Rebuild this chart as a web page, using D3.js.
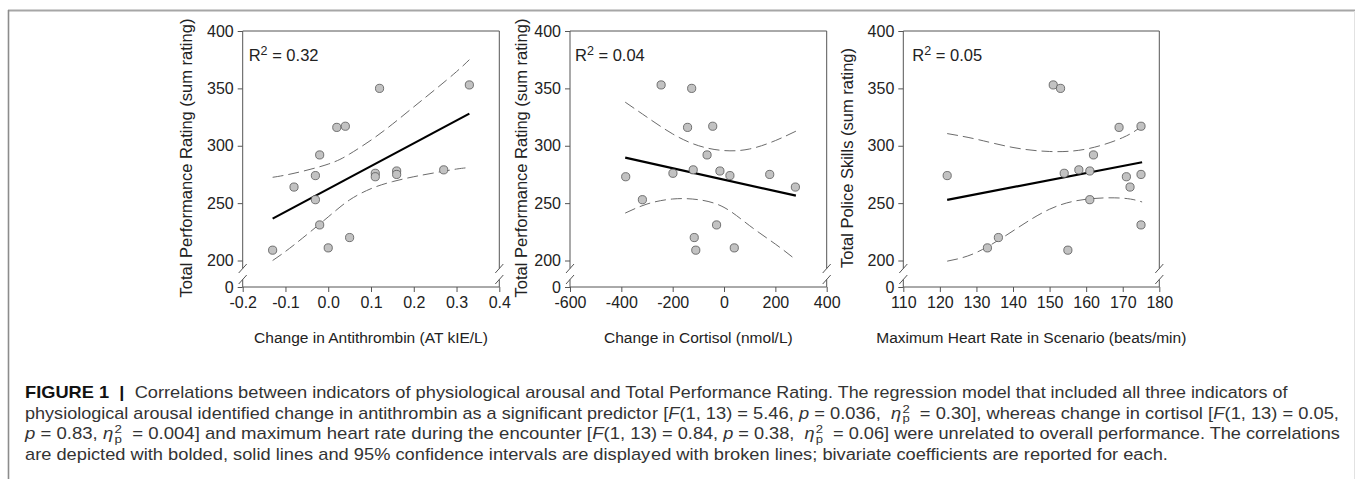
<!DOCTYPE html>
<html><head><meta charset="utf-8">
<script src="https://cdn.jsdelivr.net/npm/d3@7"></script>
<style>body{margin:0;background:#fff;} svg{display:block;} text{font-family:"Liberation Sans",Arial,sans-serif;}</style>
</head><body>
<svg id="chart" width="1355" height="479"></svg>
<script>
// ---------- data ----------
const yTicks = [0, 200, 250, 300, 350, 400];
const yTickLabels = ["0", "200", "250", "300", "350", "400"];

// Panel 1: antithrombin
const atX = [-0.13,-0.08,-0.03,-0.03,-0.02,-0.02,0.00,0.02,0.04,0.05,0.11,0.11,0.12,0.16,0.16,0.27,0.33];
const atY = [209,264,274,253,292,231,211,316,317,220,276,273,350,278,275,279,353];
const atFitX = [-0.13, 0.33];
const atFitY = [236.5, 328];
const atCiX = [-0.13,-0.08,0.0,0.05,0.1,0.15,0.2,0.25,0.3,0.33];
const atUpY = [272.5,276,284,292.8,304.9,318.8,333.9,349,364.6,375];
const atLoY = [200,213.6,238,252.8,262.6,268.7,273,276.5,279.7,281];
const atTicks = [-0.2,-0.1,0,0.1,0.2,0.3,0.4];
const atTickLabels = ["-0.2","-0.1","0.0","0.1","0.2","0.3","0.4"];

// Panel 2: cortisol
const coX = [-383,-318,-245,-199,-142,-126,-120,-116,-110,-66,-44,-29,-16,23,40,178,278];
const coY = [273,253,353,276,316,350,279,220,209,292,317,231,278,274,211,275,264];
const coFitX = [-385, 280];
const coFitY = [289.7, 256.5];
const coCiX = [-385,-300,-200,-100,0,100,200,280];
const coUpY = [338,324.9,310.3,300.1,295.8,297.2,304.5,312.7];
const coLoY = [241.3,249.2,253.6,253,246.3,230.3,214.3,200.6];
const coTicks = [-600,-400,-200,0,200,400];
const coTickLabels = ["-600","-400","-200","0","200","400"];

// Panel 3: heart rate
const hrX = [122,133,136,151,153,154,155,158,161,161,162,169,171,172,175,175,175];
const hrY = [274,211,220,353,350,276,209,279,278,253,292,316,273,264,317,275,231];
const hrFitX = [122, 175.3];
const hrFitY = [252.8, 285.6];
const hrCiX = [122,130,140,150,160,170,175.3];
const hrUpY = [310.6,305.7,298.5,295,297.1,307.1,317.3];
const hrLoY = [195,207,225.8,244.7,253.4,254.3,251];
const hrTicks = [110,120,130,140,150,160,170,180];
const hrTickLabels = ["110","120","130","140","150","160","170","180"];

const r2Labels = ["0.32", "0.04", "0.05"];
const xTitles = ["Change in Antithrombin (AT kIE/L)", "Change in Cortisol (nmol/L)", "Maximum Heart Rate in Scenario (beats/min)"];
const yTitles = ["Total Performance Rating (sum rating)", "Total Performance Rating (sum rating)", "Total Police Skills (sum rating)"];

// ---------- drawing ----------
const svg = d3.select("#chart");
const AX = "#555";

// outer figure frame
svg.append("line").attr("x1", 8).attr("x2", 1355).attr("y1", 10.5).attr("y2", 10.5)
  .attr("stroke", "#a6a6a6").attr("stroke-width", 2);
svg.append("line").attr("x1", 8.5).attr("x2", 8.5).attr("y1", 10).attr("y2", 479)
  .attr("stroke", "#8c8c8c").attr("stroke-width", 1.6);
svg.append("line").attr("x1", 1354.5).attr("x2", 1354.5).attr("y1", 11).attr("y2", 479)
  .attr("stroke", "#e2e2e2").attr("stroke-width", 1);

const Y0 = 287, Y200 = 260.5, Y400 = 31;

const panels = [
  {xDom:[-0.2,0.4], xRange:[242.7,499.3], xs:atX, ys:atY, fx:atFitX, fy:atFitY, cx:atCiX, up:atUpY, lo:atLoY, ticks:atTicks, tl:atTickLabels, ytx:186, rx:6},
  {xDom:[-600,400], xRange:[570,826.7], xs:coX, ys:coY, fx:coFitX, fy:coFitY, cx:coCiX, up:coUpY, lo:coLoY, ticks:coTicks, tl:coTickLabels, ytx:521, rx:5},
  {xDom:[110,180], xRange:[903.3,1159.3], xs:hrX, ys:hrY, fx:hrFitX, fy:hrFitY, cx:hrCiX, up:hrUpY, lo:hrLoY, ticks:hrTicks, tl:hrTickLabels, ytx:847, rx:9}
];

panels.forEach((p, k) => {
  const x = d3.scaleLinear().domain(p.xDom).range(p.xRange);
  const y = d3.scaleLinear().domain([0, 200, 400]).range([Y0, Y200, Y400]);
  const g = svg.append("g");
  const [xa, xb] = p.xRange;
  const bTop = 268.5, bBot = 279.5;

  const seg = (x1, y1, x2, y2, w) => g.append("line").attr("x1", x1).attr("y1", y1).attr("x2", x2).attr("y2", y2)
      .attr("stroke", AX).attr("stroke-width", w || 1);
  seg(xa, y(400), xb, y(400));
  seg(xa, y(0), xb, y(0));
  [xa, xb].forEach(xx => {
    seg(xx, y(400), xx, bTop);
    seg(xx, bBot, xx, y(0));
    seg(xx - 4, bTop + 4.5, xx + 4, bTop - 4.5);
    seg(xx - 4, bBot + 4.5, xx + 4, bBot - 4.5);
  });

  const yAxis = d3.axisLeft(y).tickValues(yTicks).tickSize(5).tickPadding(4)
    .tickFormat((d, i) => yTickLabels[i]);
  const gy = g.append("g").attr("transform", `translate(${xa},0)`).call(yAxis);
  const xAxis = d3.axisBottom(x).tickValues(p.ticks).tickSize(5).tickPadding(5)
    .tickFormat((d, i) => p.tl[i]);
  const gx = g.append("g").attr("transform", `translate(0,${y(0)})`).call(xAxis);
  [gx, gy].forEach(a => {
    a.select(".domain").remove();
    a.selectAll(".tick line").attr("stroke", AX);
    a.selectAll(".tick text").attr("fill", "#222").style("font-size", "16px")
      .style("font-family", "'Liberation Sans',Arial,sans-serif");
  });

  const ln = d3.line().x(d => x(d[0])).y(d => y(d[1])).curve(d3.curveNatural);
  [p.up, p.lo].forEach(arr => {
    g.append("path").attr("d", ln(p.cx.map((v, i) => [v, arr[i]])))
      .attr("fill", "none").attr("stroke", "#6b6b6b").attr("stroke-width", 1)
      .attr("stroke-dasharray", "11,5");
  });
  g.append("path").attr("d", d3.line().x(d => x(d[0])).y(d => y(d[1]))(p.fx.map((v, i) => [v, p.fy[i]])))
    .attr("fill", "none").attr("stroke", "#000").attr("stroke-width", 2.2);

  g.selectAll("circle.pt").data(p.xs.map((v, i) => [v, p.ys[i]])).join("circle")
    .attr("cx", d => x(d[0])).attr("cy", d => y(d[1])).attr("r", 4.1)
    .attr("fill", "#c2c2c2").attr("stroke", "#555").attr("stroke-width", 0.8);

  const t = g.append("text").attr("x", xa + p.rx).attr("y", 61).attr("fill", "#222").style("font-size", "16.5px");
  t.append("tspan").text("R");
  t.append("tspan").text("2").attr("dy", -6).style("font-size", "12.5px");
  t.append("tspan").text(" = " + r2Labels[k]).attr("dy", 6);

  g.append("text").attr("x", (xa + xb) / 2).attr("y", 343).attr("text-anchor", "middle")
    .attr("fill", "#222").style("font-size", "15.5px").text(xTitles[k]);
  g.append("text").attr("transform", `translate(${p.ytx},158) rotate(-90)`).attr("text-anchor", "middle")
    .attr("dy", "0.35em").attr("fill", "#222").style("font-size", "16.5px").text(yTitles[k]);
});

// ---------- caption ----------
const captionParts = [
  [[{t:"FIGURE 1", b:1},{t:"  |  ", b:1},{t:"Correlations between indicators of physiological arousal and Tot"}],
   [{t:"al Performance Rating. The regression model that included all three indicators of"}]],
  [[{t:"physiological arousal identified change in antithrombin as a significant predicto"}],
   [{t:"r ["},{t:"F",i:1},{t:"(1, 13) = 5.46, "},{t:"p",i:1},{t:" = 0.036,  "},{eta:1},{t:"  = 0.30], whereas change in cortisol ["},{t:"F",i:1},{t:"(1, 13) = 0.05,"}]],
  [[{t:"p",i:1},{t:" = 0.83, "},{eta:1},{t:"  = 0.004] and maximum heart rate during the encounter ["},{t:"F",i:1},{t:"(1, 13"}],
   [{t:") = 0.84, "},{t:"p",i:1},{t:" = 0.38,  "},{eta:1},{t:"  = 0.06] were unrelated to overall performance. The correlations"}]],
  [[{t:"are depicted with bolded, solid lines and 95% confidence intervals are display"}],
   [{t:"ed with broken lines; bivariate coefficients are reported for each."}]]
];
const capBase = [398, 418.5, 439, 459.5];
const capAnchors = [[25, 650, 1288], [25, 652, 1339], [25, 651, 1340], [25, 651, 1168]];
const CF = 16;

function layoutPart(g, segs) {
  let cx = 0;
  segs.forEach(s => {
    if (s.eta) {
      const e = g.append("text").attr("x", cx).attr("y", 0).attr("fill", "#333")
        .style("font-size", CF + "px").style("font-style", "italic").text("η");
      cx += e.node().getComputedTextLength() + 1;
      const s2 = g.append("text").attr("x", cx).attr("y", -6).attr("fill", "#333").style("font-size", "11.5px").text("2");
      const sp = g.append("text").attr("x", cx).attr("y", 3.5).attr("fill", "#333").style("font-size", "11.5px").text("p");
      cx += Math.max(s2.node().getComputedTextLength(), sp.node().getComputedTextLength());
    } else {
      const tt = g.append("text").attr("x", cx).attr("y", 0).attr("fill", s.b ? "#111" : "#333")
        .attr("xml:space", "preserve").style("white-space", "pre")
        .style("font-size", CF + "px")
        .style("font-weight", s.b ? "bold" : "normal")
        .style("font-style", s.i ? "italic" : "normal").text(s.t);
      cx += tt.node().getComputedTextLength();
    }
  });
  return cx;
}

captionParts.forEach((parts, li) => {
  const [a0, a1, a2] = capAnchors[li];
  const gA = svg.append("g");
  const wA = layoutPart(gA, parts[0]);
  gA.attr("transform", `translate(${a0},${capBase[li]}) scale(${(a1 - a0) / wA},1)`);
  const gB = svg.append("g");
  const wB = layoutPart(gB, parts[1]);
  gB.attr("transform", `translate(${a1},${capBase[li]}) scale(${(a2 - a1) / wB},1)`);
});
</script>
</body></html>
